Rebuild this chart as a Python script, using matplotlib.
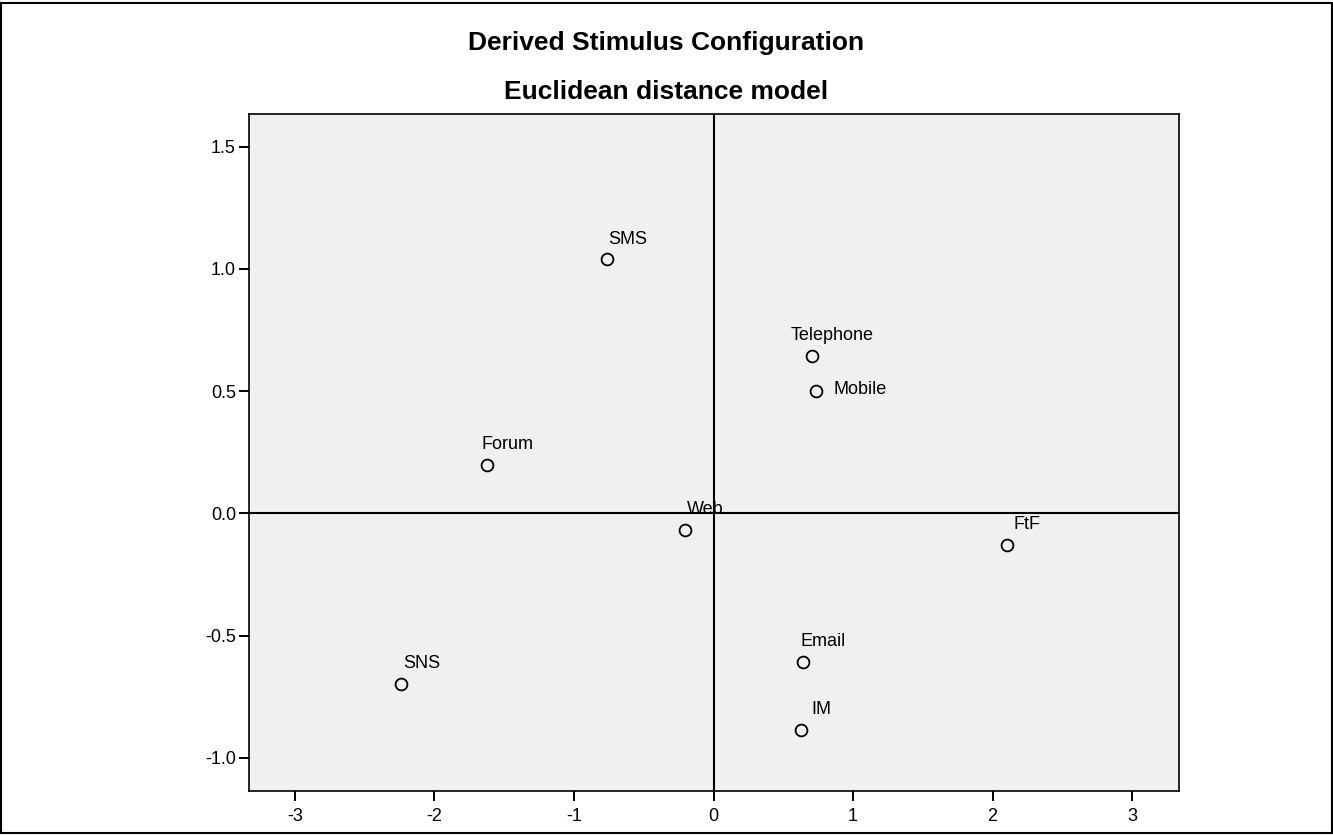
from matplotlib import pyplot as plt
from matplotlib.patches import Rectangle

# Stimulus coordinates (dimension 1, dimension 2)
names = ["SMS", "Telephone", "Mobile", "Forum", "Web", "FtF", "Email", "IM", "SNS"]
dim1 = [-0.761, 0.706, 0.733, -1.622, -0.204, 2.106, 0.644, 0.629, -2.238]
dim2 = [1.040, 0.645, 0.500, 0.198, -0.068, -0.128, -0.608, -0.885, -0.698]

xticks = [-3, -2, -1, 0, 1, 2, 3]
yticks = [-1.0, -0.5, 0.0, 0.5, 1.0, 1.5]

plt.rcParams["font.family"] = ["Liberation Sans", "DejaVu Sans"]

fig = plt.figure(figsize=(13.33, 8.35), dpi=100)
ax = fig.add_axes([248.5 / 1333, 1 - 791 / 835, 930 / 1333, 677.5 / 835])
ax.set_facecolor("#F0F0F0")

#Reference lines through the origin
ax.axhline(0, color="black", lw=1.5, zorder=1)
ax.axvline(0, color="black", lw=1.5, zorder=1)

#Points
ax.plot(dim1, dim2, "o", ms=8.5, mfc="none", mec="black", mew=1.3, zorder=3)

#Labels
for n, x, y in zip(names, dim1, dim2):
    if n == "Mobile":
        ax.annotate(n, (x, y), xytext=(13, 1), textcoords="offset points",
                    ha="left", va="center", fontsize=13)
    else:
        ax.annotate(n, (x, y), xytext=(14.5, 14.5), textcoords="offset points",
                    ha="center", va="center", fontsize=13)

ax.set_xlim(-3.333, 3.333)
ax.set_ylim(-1.136, 1.636)
ax.set_xticks(xticks)
ax.set_xticklabels([str(t) for t in xticks])
ax.set_yticks(yticks)
ax.set_yticklabels(["%.1f" % t for t in yticks])
ax.tick_params(direction="out", length=7, width=1.4, labelsize=13, color="black")
ax.tick_params(axis="x", pad=5)
ax.tick_params(axis="y", pad=2)
for s in ax.spines.values():
    s.set_linewidth(1.2)

#Titles
fig.text(0.5, 1 - 43 / 835, "Derived Stimulus Configuration", ha="center", va="center",
         fontsize=19, fontweight="bold")
fig.text(0.5, 1 - 92 / 835, "Euclidean distance model", ha="center", va="center",
         fontsize=19, fontweight="bold")

#Figure border
fig.patches.append(Rectangle((1 / 1333, 2 / 835), 1331 / 1333, 830 / 835, transform=fig.transFigure,
                             fill=False, edgecolor="black", lw=1.5))

fig.savefig("out.png", dpi=100)
